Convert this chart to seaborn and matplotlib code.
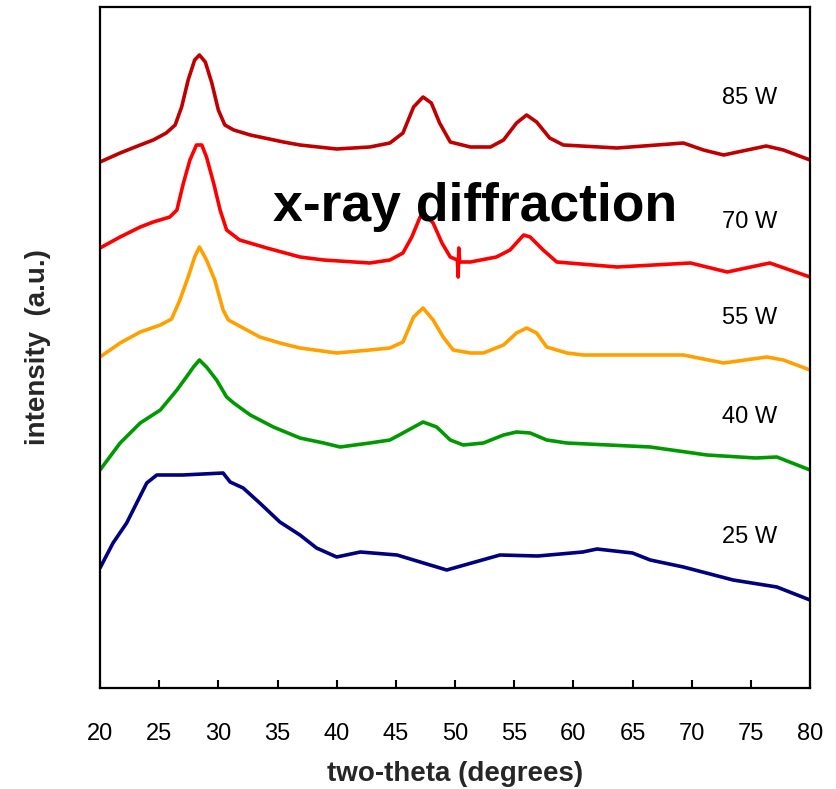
import numpy as np
import pandas as pd
import matplotlib
matplotlib.use("Agg")
import matplotlib.pyplot as plt
import seaborn as sns

sns.set_theme(style="white")
plt.rcParams['font.family'] = ['Liberation Sans', 'DejaVu Sans']

# ---- data (two-theta in degrees, intensity in arbitrary offset units) ----
x_85 = [20, 21.7, 23.4, 24.5, 25.6, 26.35, 26.9, 27.45, 28.0, 28.4, 28.9, 29.45, 30.0, 30.55,
        31.3, 32.7, 35.5, 36.9, 40, 42.8, 44.5, 45.6, 46.5, 47.3, 48.0, 48.7, 49.6, 51.3, 53.0,
        54.1, 55.2, 56.05, 56.9, 58.0, 59.15, 63.7, 69.3, 71, 72.7, 76.3, 77.75, 80]
y_85 = [526, 535, 543, 548, 555, 563, 581, 608, 628, 633, 626, 605, 578, 563,
        558, 553, 546, 543, 539, 541, 545, 555, 581, 591, 585, 565, 546, 541, 541,
        548, 565, 573, 566, 550, 543, 540, 545, 538, 533, 542, 538, 528]

x_70 = [20, 21.7, 23.4, 24.5, 25.9, 26.5, 27.05, 27.6, 28.15, 28.6, 29.0, 29.6, 30.15, 30.7,
        31.8, 34.1, 36.9, 38.9, 42.8, 44.5, 45.6, 46.35, 47.05, 47.35, 48.15, 48.9, 49.6,
        50.2, 50.27, 50.32, 50.4, 51.3, 53.5, 54.65, 55.8, 56.35, 57.45, 58.6, 63.7, 69.9,
        73, 76.6, 80]
y_70 = [440, 451, 461, 466, 471, 478, 505, 528, 543, 543, 531, 505, 478, 458,
        448, 440, 431, 428, 425, 428, 435, 451, 471, 475, 465, 445, 431,
        428, 411, 440, 426, 426, 431, 438, 453, 451, 438, 426, 421, 425,
        416, 425, 411]

x_55 = [20, 21.7, 23.4, 25.1, 26.05, 26.75, 27.45, 28.0, 28.4, 29.0, 29.7, 30.4, 30.85, 32.1,
        33.5, 35.2, 36.9, 40, 42.8, 44.5, 45.6, 46.5, 47.3, 48.15, 49.0, 49.85, 51.3, 52.4,
        54.1, 55.2, 56.05, 56.9, 57.75, 59.45, 60.85, 69.3, 72.7, 76.35, 77.75, 80]
y_55 = [331, 345, 356, 363, 369, 388, 411, 431, 441, 428, 408, 378, 368, 360,
        351, 345, 340, 335, 338, 340, 346, 371, 380, 368, 351, 338, 335, 335,
        343, 355, 360, 355, 341, 335, 333, 333, 325, 331, 328, 318]

x_40 = [20, 21.7, 23.4, 25.1, 26.5, 27.3, 27.9, 28.4, 29.0, 29.85, 30.7, 31.3, 32.7, 34.65,
        36.9, 38.9, 40.3, 42.8, 44.5, 45.6, 47.3, 48.45, 49.6, 50.7, 52.4, 54.1, 55.2, 56.35,
        57.75, 59.45, 66.5, 71.3, 75.4, 77.2, 80]
y_40 = [218, 245, 265, 278, 298, 311, 321, 328, 321, 308, 291, 285, 273, 261,
        250, 245, 241, 245, 248, 255, 266, 261, 248, 243, 245, 253, 256, 255,
        248, 245, 241, 233, 230, 231, 218]

x_25 = [20, 21.1, 22.25, 23.1, 23.95, 24.8, 27.0, 30.4, 31.0, 32.1, 33.5, 35.2, 36.9, 38.3,
        40.0, 42.0, 45.1, 49.3, 53.8, 57, 60.8, 62, 65, 66.5, 69.3, 73.5, 77.2, 80]
y_25 = [120, 145, 165, 185, 205, 213, 213, 215, 206, 200, 185, 166, 153, 140,
        131, 136, 133, 118, 133, 132, 136, 139, 135, 128, 121, 108, 101, 88]

samples = ["85 W", "70 W", "55 W", "40 W", "25 W"]
colors = ["#C00000", "#FF0000", "#FFA000", "#009A00", "#000080"]
label_y = [590, 466, 370, 271, 151]

frames = []
for name, xs, ys in zip(samples, [x_85, x_70, x_55, x_40, x_25], [y_85, y_70, y_55, y_40, y_25]):
    frames.append(pd.DataFrame({"two_theta": xs, "intensity": ys, "sample": name}))
df = pd.concat(frames, ignore_index=True)

fig = plt.figure(figsize=(8.36, 7.89), dpi=100)
ax = fig.add_axes([100/836, 1-688/789, 710/836, 681/789])

sns.lineplot(data=df, x="two_theta", y="intensity", hue="sample",
             palette=dict(zip(samples, colors)), estimator=None, sort=False,
             linewidth=2.6, legend=False, ax=ax)

for name, ly in zip(samples, label_y):
    ax.text(72.56, ly, name, fontsize=17, ha="left", va="center", color="black")

ax.text(51.7, 481, "x-ray diffraction", fontsize=38.5, fontweight="bold",
        ha="center", va="center", color="black", zorder=10)

ax.set_xlim(20, 80)
ax.set_ylim(0, 681)
ax.set_xticks(list(range(20, 81, 5)))
ax.set_yticks([])
ax.tick_params(axis="x", direction="in", length=6, width=1.5, pad=25,
               labelsize=17, bottom=True, colors="black")
for sp in ax.spines.values():
    sp.set_color("black")
    sp.set_linewidth(1.6)

ax.set_xlabel("two-theta (degrees)", fontsize=20, fontweight="bold", labelpad=12)
ax.set_ylabel("intensity  (a.u.)", fontsize=20, fontweight="bold", labelpad=35)

fig.savefig("out.png", dpi=100)
